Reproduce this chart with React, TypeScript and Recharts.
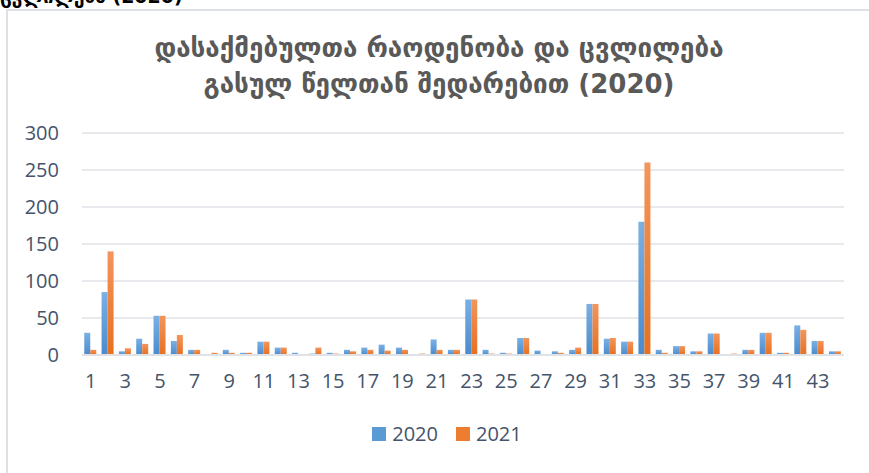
import React from "react";
import { BarChart, Bar, XAxis, YAxis, CartesianGrid } from "recharts";

const categories: number[] = Array.from({ length: 44 }, (_, i) => i + 1);
const values2020: number[] = [
  30, 85, 5, 22, 53, 19, 7, 0, 7, 3,
  18, 10, 3, 2, 3, 7, 10, 14, 10, 0,
  21, 7, 75, 7, 3, 23, 6, 5, 7, 69,
  22, 18, 180, 7, 12, 5, 29, 0, 7, 30,
  3, 40, 19, 5,
];
const values2021: number[] = [
  7, 140, 9, 15, 53, 27, 7, 3, 3, 3,
  18, 10, 1, 10, 2, 5, 7, 6, 7, 2,
  7, 7, 75, 2, 2, 23, 0, 3, 10, 69,
  23, 18, 260, 3, 12, 5, 29, 2, 7, 30,
  3, 34, 19, 5,
];
const seriesNames = ["2020", "2021"];
const yTicks = [0, 50, 100, 150, 200, 250, 300];
const titleLines = ["დასაქმებულთა რაოდენობა და ცვლილება", "გასულ წელთან შედარებით (2020)"];
const clippedHeading = "ცვლილება (2020)";

const data = categories.map((c, i) => ({
  cat: String(c),
  s2020: values2020[i],
  s2021: values2021[i],
}));

const textColor = "#44546a";
const blue = "#5b9bd5";
const orange = "#ed7d31";

export default function App() {
  return (
    <div style={{ position: "absolute", left: 0, top: 0, width: 869, height: 473, overflow: "hidden", background: "#fff" }}>
      <div
        style={{
          position: "absolute",
          left: 0,
          top: -15,
          fontFamily: "DejaVu Sans",
          fontWeight: "bold",
          fontSize: 19,
          color: "#000",
          whiteSpace: "nowrap",
        }}
      >
        {clippedHeading}
      </div>
      <div
        style={{
          position: "absolute",
          left: 6,
          top: 9,
          width: 900,
          height: 500,
          borderLeft: "2px solid #dde1e6",
          borderTop: "2px solid #dde1e6",
        }}
      />
      {titleLines.map((t, i) => (
        <div
          key={i}
          style={{
            position: "absolute",
            left: 0,
            width: 878,
            top: 32 + i * 36,
            textAlign: "center",
            fontFamily: "DejaVu Sans",
            fontWeight: "bold",
            fontSize: 26,
            lineHeight: "32px",
            color: "#595959",
            whiteSpace: "nowrap",
          }}
        >
          {t}
        </div>
      ))}
      <div style={{ position: "absolute", left: 0, top: 0 }}>
        <BarChart
          width={869}
          height={473}
          data={data}
          margin={{ top: 133, right: 25, left: 0, bottom: 88 }}
          barCategoryGap="13%"
          barGap={0}
        >
          <defs>
            <linearGradient id="gBlue" x1="0" y1="0" x2="0" y2="1">
              <stop offset="0%" stopColor="#7ab0e4" />
              <stop offset="100%" stopColor="#4a8bcc" />
            </linearGradient>
            <linearGradient id="gOrange" x1="0" y1="0" x2="0" y2="1">
              <stop offset="0%" stopColor="#f3955c" />
              <stop offset="100%" stopColor="#e8701f" />
            </linearGradient>
          </defs>
          <CartesianGrid vertical={false} stroke="#dfe2e7" strokeWidth={1.5} />
          <XAxis
            dataKey="cat"
            interval={1}
            axisLine={{ stroke: "#dfe2e7", strokeWidth: 2 }}
            tickLine={false}
            tickSize={0}
            tickMargin={19}
            height={30}
            tick={{ fill: textColor, fontSize: 20, fontFamily: "Open Sans" }}
          />
          <YAxis
            domain={[0, 300]}
            ticks={yTicks}
            axisLine={false}
            tickLine={false}
            tickSize={0}
            tickMargin={23}
            width={82}
            tick={{ fill: textColor, fontSize: 20, fontFamily: "Open Sans" }}
          />
          <Bar dataKey="s2020" name={seriesNames[0]} fill="url(#gBlue)" isAnimationActive={false} />
          <Bar dataKey="s2021" name={seriesNames[1]} fill="url(#gOrange)" isAnimationActive={false} />
        </BarChart>
      </div>
      <div
        style={{
          position: "absolute",
          left: 0,
          width: 894,
          top: 420,
          display: "flex",
          justifyContent: "center",
          alignItems: "center",
          fontFamily: "Open Sans",
          fontSize: 20,
          color: textColor,
        }}
      >
        {seriesNames.map((n, i) => (
          <div key={n} style={{ display: "flex", alignItems: "center", marginLeft: i === 0 ? 0 : 18 }}>
            <span style={{ width: 14, height: 14, background: i === 0 ? blue : orange, display: "inline-block", marginRight: 6 }} />
            <span>{n}</span>
          </div>
        ))}
      </div>
    </div>
  );
}
